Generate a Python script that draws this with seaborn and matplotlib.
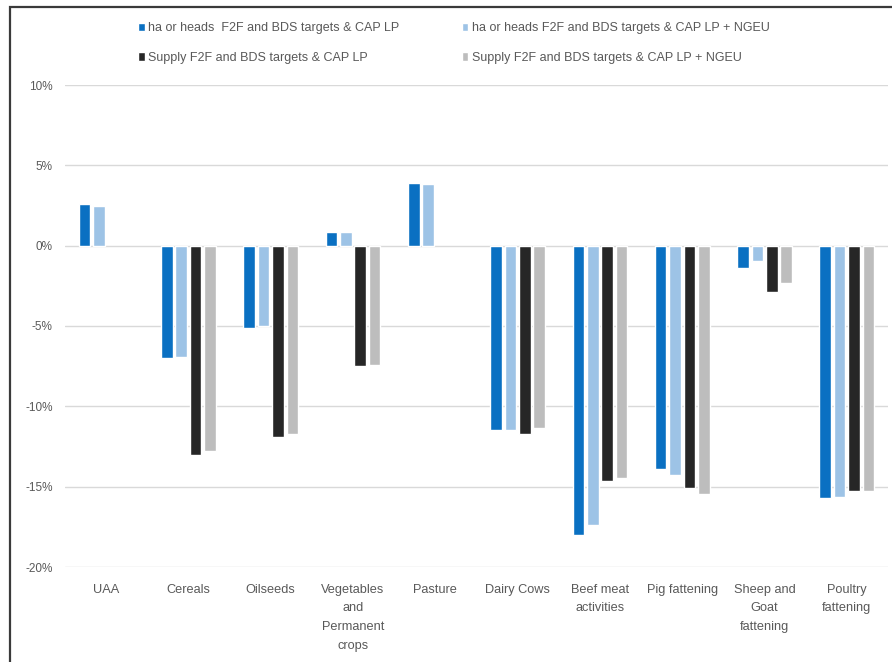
import numpy as np
import pandas as pd
import matplotlib
matplotlib.use("Agg")
import matplotlib.pyplot as plt
from matplotlib.patches import Rectangle
import seaborn as sns

categories = ["UAA", "Cereals", "Oilseeds", "Vegetables\nand\nPermanent\ncrops", "Pasture",
              "Dairy Cows", "Beef meat\nactivities", "Pig fattening", "Sheep and\nGoat\nfattening",
              "Poultry\nfattening"]
series_names = ["ha or heads  F2F and BDS targets & CAP LP",
                "ha or heads F2F and BDS targets & CAP LP + NGEU",
                "Supply F2F and BDS targets & CAP LP",
                "Supply F2F and BDS targets & CAP LP + NGEU"]
ha_cap = [2.6, -7.0, -5.1, 0.85, 3.9, -11.5, -18.0, -13.9, -1.4, -15.7]
ha_ngeu = [2.5, -6.9, -5.0, 0.82, 3.85, -11.45, -17.4, -14.3, -0.95, -15.65]
supply_cap = [np.nan, -13.0, -11.9, -7.5, np.nan, -11.75, -14.65, -15.1, -2.9, -15.3]
supply_ngeu = [np.nan, -12.8, -11.75, -7.45, np.nan, -11.35, -14.45, -15.45, -2.3, -15.25]
y_ticks = [-20, -15, -10, -5, 0, 5, 10]

colors = ["#0A70C2", "#9DC3E6", "#262626", "#BDBDBD"]

rows = []
for name, vals in zip(series_names, [ha_cap, ha_ngeu, supply_cap, supply_ngeu]):
    for c, v in zip(categories, vals):
        rows.append({"cat": c, "series": name, "val": v})
df = pd.DataFrame(rows)

sns.set_theme(style="white")
plt.rcParams["font.family"] = ["Liberation Sans", "DejaVu Sans"]

fig = plt.figure(figsize=(8.92, 6.62), dpi=100)
ax = fig.add_axes([65/892, 1-567/662, (888-65)/892, (567-85)/662])

sns.barplot(data=df, x="cat", y="val", hue="series", hue_order=series_names,
            order=categories, palette=colors, width=0.7, gap=0.2,
            errorbar=None, ax=ax, saturation=1)

ax.set_ylim(-20, 10)
ax.set_yticks(y_ticks)
ax.set_yticklabels([f"{t}%" for t in y_ticks])
ax.set_xlabel("")
ax.set_ylabel("")
for s in ax.spines.values():
    s.set_visible(False)
ax.yaxis.grid(True, color="#D9D9D9", linewidth=1)
ax.set_axisbelow(True)
ax.tick_params(axis="y", length=0, labelsize=8.5, labelcolor="#595959", pad=9)
ax.tick_params(axis="x", length=0, labelsize=9.2, labelcolor="#595959", pad=12)
for lbl in ax.get_xticklabels():
    lbl.set_linespacing(1.75)
    lbl.set_verticalalignment("top")

handles, labels = ax.get_legend_handles_labels()
order = [0, 2, 1, 3]
ax.legend([handles[i] for i in order], [labels[i] for i in order],
          ncol=2, loc="upper left", bbox_to_anchor=(127/892, 1-11/662),
          bbox_transform=fig.transFigure, frameon=False, fontsize=9,
          handlelength=0.5, handleheight=0.7, handletextpad=0.3,
          labelspacing=1.4, columnspacing=5.0, labelcolor="#595959")

fig.patches.append(Rectangle((10/892, -0.05), 1.1, 1-7/662+0.05, transform=fig.transFigure,
                             fill=False, edgecolor="#3A3A3A", linewidth=1.6, zorder=10))

fig.savefig("out.png", dpi=100)
